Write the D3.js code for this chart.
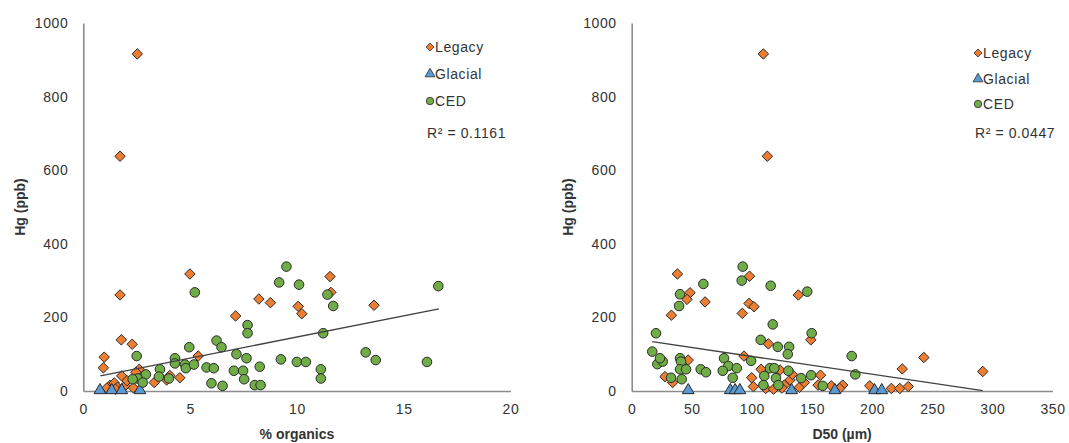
<!DOCTYPE html>
<html>
<head>
<meta charset="utf-8">
<script src="https://cdn.jsdelivr.net/npm/d3@7"></script>
<style>
    body { margin: 0; background: #fff; }
    svg { display: block; font-family: "Liberation Sans", Arial, sans-serif; }
    .axis text { font-size: 14px; fill: #333; letter-spacing: 0.6px; }
    .axis path { stroke: #8c8c8c; stroke-width: 1.6; }
    .title { font-size: 14px; font-weight: bold; fill: #333; }
    .legend text { font-size: 14px; fill: #333; letter-spacing: 0.6px; }
</style>
</head>
<body>
<div id="chart"></div>
<script>
// Shared y axis ticks (Hg, ppb)
const hgTicks = [0, 200, 400, 600, 800, 1000];
const orgTicks = [0, 5, 10, 15, 20];
const d50Ticks = [0, 50, 100, 150, 200, 250, 300, 350];

const seriesNames = ["Legacy", "Glacial", "CED"];

// Left panel: % organics vs Hg
const orgLegacy = [
    [2.53, 916], [1.72, 638], [4.99, 318], [1.72, 261], [1.78, 139], [2.29, 127],
    [0.98, 92], [0.94, 63], [5.38, 95], [4.52, 36], [3.32, 23], [1.8, 41],
    [2.62, 59], [2.46, 51], [2.34, 9], [8.22, 250], [8.76, 240], [7.13, 204],
    [10.06, 230], [10.23, 210], [11.55, 311], [11.59, 268], [13.61, 233],
    [1.25, 15], [1.45, 22], [1.6, 10], [1.95, 14], [2.05, 28], [1.1, 8],
    [3.9, 30], [4.05, 42], [1.5, 5]
];
const orgGlacial = [[0.78, 2], [1.33, 2], [1.8, 2], [2.65, 2]];
const orgCED = [
    [9.51, 338], [9.17, 295], [10.1, 289], [5.22, 268], [7.69, 179], [7.69, 157],
    [2.5, 95], [4.96, 119], [6.24, 137], [6.47, 119], [4.29, 89], [4.29, 75],
    [4.76, 72], [4.8, 62], [5.18, 72], [5.77, 64], [6.11, 62], [7.17, 100],
    [7.64, 89], [7.05, 55], [7.48, 55], [7.53, 32], [8.26, 66], [8.03, 16],
    [8.3, 16], [6.0, 21], [6.52, 14], [9.25, 86], [10.0, 79], [10.42, 79],
    [3.59, 59], [3.54, 39], [4.01, 34], [2.93, 45], [2.54, 34], [2.31, 32],
    [2.78, 23], [11.43, 262], [11.7, 231], [16.62, 285], [11.23, 157],
    [13.22, 105], [13.69, 84], [16.09, 79], [11.12, 59], [11.12, 34]
];
const orgTrend = [[0.8, 41], [16.65, 223]];
const orgR2 = "R² = 0.1161";

// Right panel: D50 vs Hg
const d50Legacy = [
    [109.5, 916], [112.8, 638], [38, 318], [98, 312], [48.5, 267], [46, 249],
    [61, 242], [33, 206], [92, 211], [97.6, 238], [101.7, 229], [138.6, 261],
    [149, 139], [113.7, 128], [93.4, 95], [47, 84], [243, 91], [225, 60],
    [292, 53], [27.7, 39], [34, 23], [99.8, 36], [101.2, 12], [107.6, 59],
    [111.5, 7], [123.4, 57], [127, 16], [131.7, 30], [133.6, 45], [139.5, 10],
    [143.6, 23], [157, 43], [155, 16], [166, 14], [175.5, 16], [173, 7],
    [198, 14], [216, 7], [223, 7], [230, 12], [118, 5], [125, 8]
];
const d50Glacial = [[47, 2], [82, 2], [86, 2], [90, 2], [133, 2], [169, 2], [202, 2], [208, 2]];
const d50CED = [
    [92.3, 338], [91.5, 300], [115.6, 286], [59.6, 291], [146, 270], [40.2, 263],
    [39.4, 231], [117.3, 181], [149.7, 157], [20.2, 157], [107.3, 139], [121.5, 120],
    [130.9, 120], [129.8, 100], [183, 95], [186, 45], [99.3, 82], [17.1, 107],
    [21.3, 73], [25.8, 80], [23.5, 89], [40.2, 89], [41, 80], [40.2, 59],
    [45.2, 59], [41.6, 32], [32.7, 36], [57.4, 59], [61.8, 51], [76.8, 89],
    [80.4, 68], [75.7, 55], [87.4, 62], [84, 36], [110.3, 41], [109.5, 16],
    [115, 62], [118.6, 62], [120, 35], [122, 16], [130.3, 55], [140.9, 35],
    [149.2, 43], [158.9, 14]
];
const d50Trend = [[17.1, 134], [292, 1]];
const d50R2 = "R² = 0.0447";

const colors = { Legacy: "#ED7D31", Glacial: "#5B9BD5", CED: "#70AD47" };
const symbols = { Legacy: d3.symbolDiamond2, Glacial: d3.symbolTriangle, CED: d3.symbolCircle };

const svg = d3.select("#chart").append("svg")
    .attr("width", 1069)
    .attr("height", 443);

function drawPanel(p) {
    let x = d3.scaleLinear().domain(p.xDomain).range(p.xRange);
    let y = d3.scaleLinear().domain([0, 1000]).range([391, 23]);

    let g = svg.append("g");

    // axes, no tick marks
    g.append("g")
        .attr("class", "axis")
        .attr("transform", "translate(0,391)")
        .call(d3.axisBottom(x).tickValues(p.xTicks).tickFormat(d3.format("d")).tickSize(0).tickPadding(13));
    g.append("g")
        .attr("class", "axis")
        .attr("transform", "translate(" + p.xRange[0] + ",0)")
        .call(d3.axisLeft(y).tickValues(hgTicks).tickFormat(d3.format("d")).tickSize(0).tickPadding(15));

    // axis titles
    g.append("text")
        .attr("class", "title")
        .attr("x", (p.xRange[0] + p.xRange[1]) / 2)
        .attr("y", 439)
        .attr("text-anchor", "middle")
        .text(p.xTitle);
    g.append("text")
        .attr("class", "title")
        .attr("transform", "translate(" + p.yTitleX + ",207) rotate(-90)")
        .attr("text-anchor", "middle")
        .text("Hg (ppb)");

    // points: series order Legacy, Glacial, CED
    p.series.forEach(function (s, i) {
        let name = seriesNames[i];
        let sym = d3.symbol().type(symbols[name]).size(name === "CED" ? 72 : (name === "Glacial" ? 60 : 70));
        g.append("g").selectAll("path")
            .data(s)
            .enter().append("path")
            .attr("d", sym)
            .attr("transform", d => "translate(" + x(d[0]) + "," + y(d[1]) + ")")
            .attr("fill", colors[name])
            .attr("stroke", "#2a2a2a")
            .attr("stroke-width", 1);
    });

    // linear trendline
    g.append("path")
        .datum(p.trend)
        .attr("fill", "none")
        .attr("stroke", "#404040")
        .attr("stroke-width", 1.3)
        .attr("d", d3.line().x(d => x(d[0])).y(d => y(d[1])));

    // legend
    let lg = g.append("g").attr("class", "legend");
    seriesNames.forEach(function (name, i) {
        let ly = p.legendY[i];
        let sym = d3.symbol().type(symbols[name]).size(name === "CED" ? 44 : 42);
        lg.append("path")
            .attr("d", sym)
            .attr("transform", "translate(" + p.legendX + "," + ly + ")")
            .attr("fill", colors[name])
            .attr("stroke", "#2a2a2a")
            .attr("stroke-width", 0.8);
        lg.append("text")
            .attr("x", p.legendX + 5)
            .attr("y", ly + 5)
            .text(name);
    });
    lg.append("text")
        .attr("x", p.legendX - 3)
        .attr("y", p.legendY[3] + 5)
        .text(p.r2);
}

drawPanel({
    xDomain: [0, 20], xRange: [83.3, 510.5], xTicks: orgTicks, xTitle: "% organics",
    yTitleX: 25, series: [orgLegacy, orgGlacial, orgCED], trend: orgTrend,
    legendX: 430, legendY: [47, 74, 101, 133], r2: orgR2
});
drawPanel({
    xDomain: [0, 350], xRange: [631.7, 1052.5], xTicks: d50Ticks, xTitle: "D50 (µm)",
    yTitleX: 573, series: [d50Legacy, d50Glacial, d50CED], trend: d50Trend,
    legendX: 978, legendY: [53, 79, 104, 133], r2: d50R2
});
</script>
</body>
</html>
